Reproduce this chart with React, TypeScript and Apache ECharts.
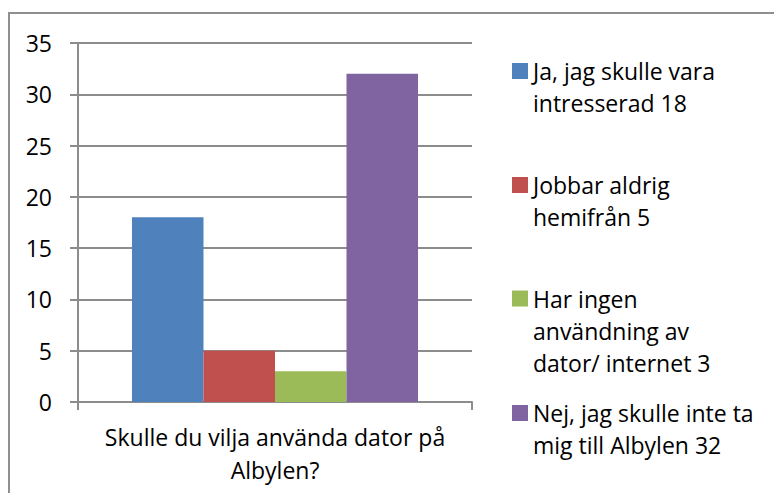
import React, { useEffect, useRef } from "react";
import * as echarts from "echarts";

const categories = ["Skulle du vilja använda dator på\nAlbylen?"];
const seriesNames = [
  "Ja, jag skulle vara intresserad 18",
  "Jobbar aldrig hemifrån 5",
  "Har ingen användning av dator/ internet 3",
  "Nej, jag skulle inte ta mig till Albylen 32",
];
const legendLines = [
  ["Ja, jag skulle vara", "intresserad 18"],
  ["Jobbar aldrig", "hemifrån 5"],
  ["Har ingen", "användning av", "dator/ internet 3"],
  ["Nej, jag skulle inte ta", "mig till Albylen 32"],
];
const seriesValues = [18, 5, 3, 32];
const seriesColors = ["#4F81BD", "#C0504D", "#9BBB59", "#8064A2"];
const yTicks = { min: 0, max: 35, interval: 5 };

const FONT = "'Open Sans', sans-serif";
const LINE_H = 32;
const legendFirstLineY = [71, 185, 298.5, 413];
const AXIS_COLOR = "#8c8c8c";

export default function App() {
  const ref = useRef<HTMLDivElement>(null);
  useEffect(() => {
    if (!ref.current) return;
    const chart = echarts.init(ref.current, undefined, { renderer: "svg" });
    const legends = seriesNames.map((name, i) => {
      const n = legendLines[i].length;
      const text = new Array(n - 1).fill("").concat(legendLines[i]).join("\n");
      return {
        data: [name],
        orient: "vertical",
        left: 512,
        top: legendFirstLineY[i] - (LINE_H * (2 * n - 1)) / 2,
        padding: 0,
        icon: "rect",
        itemWidth: 16,
        itemHeight: 16,
        itemGap: 0,
        selectedMode: false,
        formatter: () => text,
        textStyle: {
          fontFamily: FONT,
          fontSize: 23,
          color: "#000",
          lineHeight: LINE_H,
        },
      };
    });
    chart.setOption({
      animation: false,
      backgroundColor: "#fff",
      textStyle: { fontFamily: FONT },
      graphic: [
        {
          type: "rect",
          shape: { x: 9, y: 13, width: 900, height: 700 },
          style: { fill: "none", stroke: "#8f8f8f", lineWidth: 2 },
          silent: true,
        },
      ],
      legend: legends,
      grid: { left: 78, top: 43, width: 394, height: 359, containLabel: false },
      xAxis: {
        type: "category",
        data: categories,
        axisLine: { show: true, lineStyle: { color: AXIS_COLOR, width: 2 } },
        axisTick: { show: true, length: 8, alignWithLabel: false, lineStyle: { color: AXIS_COLOR, width: 2 } },
        axisLabel: {
          margin: 18,
          fontFamily: FONT,
          fontSize: 23,
          color: "#000",
          lineHeight: 33,
        },
      },
      yAxis: {
        type: "value",
        min: yTicks.min,
        max: yTicks.max,
        interval: yTicks.interval,
        axisLine: { show: true, lineStyle: { color: AXIS_COLOR, width: 2 } },
        axisTick: { show: true, length: 8, lineStyle: { color: AXIS_COLOR, width: 2 } },
        splitLine: { show: true, lineStyle: { color: AXIS_COLOR, width: 2 } },
        axisLabel: { margin: 26, fontFamily: FONT, fontSize: 23, color: "#000" },
      },
      series: seriesNames.map((name, i) => ({
        name,
        type: "bar",
        data: [seriesValues[i]],
        itemStyle: { color: seriesColors[i] },
        barGap: "0%",
        barCategoryGap: "27.4%",
      })),
    });
    return () => chart.dispose();
  }, []);
  return (
    <div
      ref={ref}
      style={{ position: "fixed", left: 0, top: 0, width: 774, height: 493 }}
    />
  );
}
